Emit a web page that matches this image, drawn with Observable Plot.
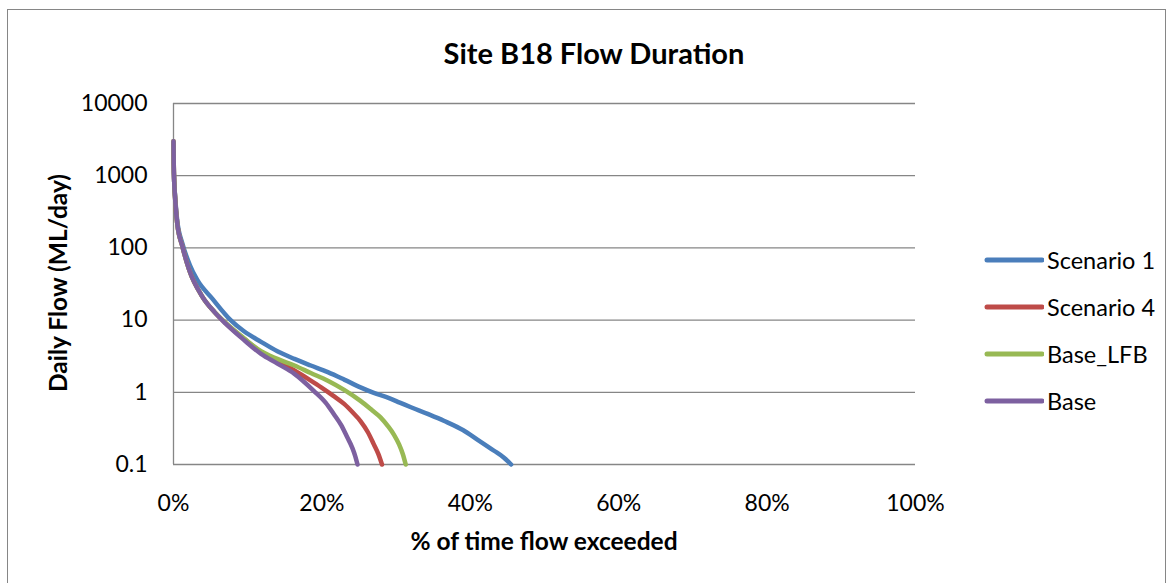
<!DOCTYPE html>
<html><head><meta charset="utf-8">
<script src="https://cdn.jsdelivr.net/npm/d3@7"></script>
<script src="https://cdn.jsdelivr.net/npm/@observablehq/plot@0.6"></script>
<style>
body{margin:0;background:#fff;font-family:Lato,"Open Sans",sans-serif;}
#wrap{position:relative;width:1174px;height:583px;overflow:hidden;background:#fff;}
#frame{position:absolute;left:7px;top:9px;width:1159px;height:700px;border:1px solid #868686;box-sizing:border-box;}
#plot{position:absolute;left:0;top:0;}
.t{position:absolute;white-space:nowrap;color:#000;line-height:1;}
#title{left:594px;top:52px;transform:translate(-50%,-50%);font-weight:700;font-size:29px;}
#xlab{left:544px;top:541px;transform:translate(-50%,-50%);font-weight:700;font-size:24.5px;}
#ylab{left:58px;top:283px;transform:translate(-50%,-50%) rotate(-90deg);font-weight:700;font-size:24.5px;}
.leg{position:absolute;left:984px;height:24px;display:flex;align-items:center;font-size:23.5px;white-space:nowrap;}
.leg svg{margin-right:3px;}
</style></head>
<body><div id="wrap"><div id="frame"></div><div id="plot"></div>
<div class="t" id="title">Site B18 Flow Duration</div>
<div class="t" id="xlab">% of time flow exceeded</div>
<div class="t" id="ylab">Daily Flow (ML/day)</div>
<div id="legend"></div>
</div>
<script>
const seriesNames = ["Scenario 1", "Scenario 4", "Base_LFB", "Base"];
const seriesColors = ["#4A7EBB", "#BE4B48", "#98B954", "#7D60A0"];
const xTicks = [0, 0.2, 0.4, 0.6, 0.8, 1.0];
const xTickLabels = ["0%", "20%", "40%", "60%", "80%", "100%"];
const yTicks = [0.1, 1, 10, 100, 1000, 10000];
const yTickLabels = ["0.1", "1", "10", "100", "1000", "10000"];

// % of time exceeded (fraction) and daily flow (ML/day)
const pctScenario1 = [0, 0.0003, 0.001, 0.002, 0.005, 0.012, 0.022, 0.032, 0.052, 0.077, 0.095, 0.118, 0.14, 0.163, 0.185, 0.208, 0.23, 0.252, 0.27, 0.288, 0.305, 0.32, 0.345, 0.365, 0.39, 0.41, 0.432, 0.445, 0.455];
const flowScenario1 = [2800, 1400, 800, 550, 240, 115, 58, 36, 20, 10, 7.0, 5.0, 3.7, 2.9, 2.35, 1.9, 1.5, 1.17, 0.98, 0.85, 0.72, 0.62, 0.49, 0.40, 0.30, 0.22, 0.155, 0.125, 0.1];

const pctScenario4 = [0, 0.0003, 0.001, 0.002, 0.005, 0.012, 0.021, 0.039, 0.055, 0.07, 0.095, 0.118, 0.14, 0.163, 0.185, 0.199, 0.215, 0.23, 0.242, 0.252, 0.262, 0.27, 0.276, 0.281];
const flowScenario4 = [3000, 1500, 800, 520, 220, 105, 50, 21, 13, 9.1, 5.5, 3.6, 2.7, 2.0, 1.45, 1.17, 0.9, 0.69, 0.52, 0.40, 0.28, 0.19, 0.14, 0.1];

const pctBaseLFB = [0, 0.0003, 0.001, 0.002, 0.005, 0.012, 0.021, 0.039, 0.055, 0.07, 0.095, 0.118, 0.14, 0.163, 0.185, 0.208, 0.23, 0.252, 0.268, 0.279, 0.289, 0.297, 0.304, 0.309, 0.313];
const flowBaseLFB = [3000, 1500, 800, 520, 220, 105, 50, 21, 13, 9.2, 5.6, 3.7, 2.9, 2.35, 1.85, 1.45, 1.08, 0.76, 0.56, 0.45, 0.34, 0.26, 0.19, 0.14, 0.1];

const pctBase = [0, 0.0003, 0.001, 0.002, 0.005, 0.012, 0.021, 0.039, 0.055, 0.07, 0.095, 0.118, 0.14, 0.163, 0.189, 0.205, 0.216, 0.226, 0.234, 0.241, 0.245, 0.248];
const flowBase = [3000, 1500, 800, 520, 220, 105, 50, 21, 13, 9, 5.3, 3.4, 2.5, 1.8, 1.05, 0.72, 0.5, 0.35, 0.24, 0.17, 0.13, 0.1];

const seriesPct = [pctScenario1, pctScenario4, pctBaseLFB, pctBase];
const seriesFlow = [flowScenario1, flowScenario4, flowBaseLFB, flowBase];

const rows = [];
seriesNames.forEach((name, s) => {
  seriesPct[s].forEach((p, i) => rows.push({series: name, pct: p, flow: seriesFlow[s][i]}));
});
const yTickRows = yTicks.map((v, i) => ({v, label: yTickLabels[i]}));
const xTickRows = xTicks.map((v, i) => ({v, label: xTickLabels[i]}));

const chart = Plot.plot({
  width: 1174, height: 583,
  marginLeft: 173, marginRight: 259, marginTop: 103, marginBottom: 119,
  style: {fontFamily: "Lato, 'Open Sans', sans-serif", fontSize: "23px", color: "#000", background: "transparent", overflow: "visible"},
  x: {domain: [0, 1], axis: null},
  y: {type: "log", domain: [0.1, 10000], axis: null},
  color: {domain: seriesNames, range: seriesColors},
  marks: [
    Plot.gridY(yTicks, {stroke: "#868686", strokeOpacity: 1, strokeWidth: 1.3}),
    Plot.ruleX([0], {stroke: "#868686", strokeWidth: 1.3}),
    Plot.text(yTickRows, {y: "v", text: "label", frameAnchor: "left", dx: -26, textAnchor: "end", lineAnchor: "middle", fill: "#000", fontSize: 23}),
    Plot.text(xTickRows, {x: "v", text: "label", frameAnchor: "bottom", dy: 39, lineAnchor: "middle", fill: "#000", fontSize: 23}),
    Plot.line(rows, {x: "pct", y: "flow", z: "series", stroke: "series", strokeWidth: 4.5, curve: "monotone-x", strokeLinecap: "round", strokeLinejoin: "round"})
  ]
});
document.getElementById("plot").appendChild(chart);

const legendY = [260, 307, 354, 401];
const legend = document.getElementById("legend");
seriesNames.forEach((name, i) => {
  const row = document.createElement("div");
  row.className = "leg";
  row.style.top = (legendY[i] - 12) + "px";
  row.innerHTML = `<svg width="60" height="24"><line x1="3" y1="12" x2="58" y2="12" stroke="${seriesColors[i]}" stroke-width="5" stroke-linecap="round"/></svg><span>${name}</span>`;
  legend.appendChild(row);
});
</script></body></html>
